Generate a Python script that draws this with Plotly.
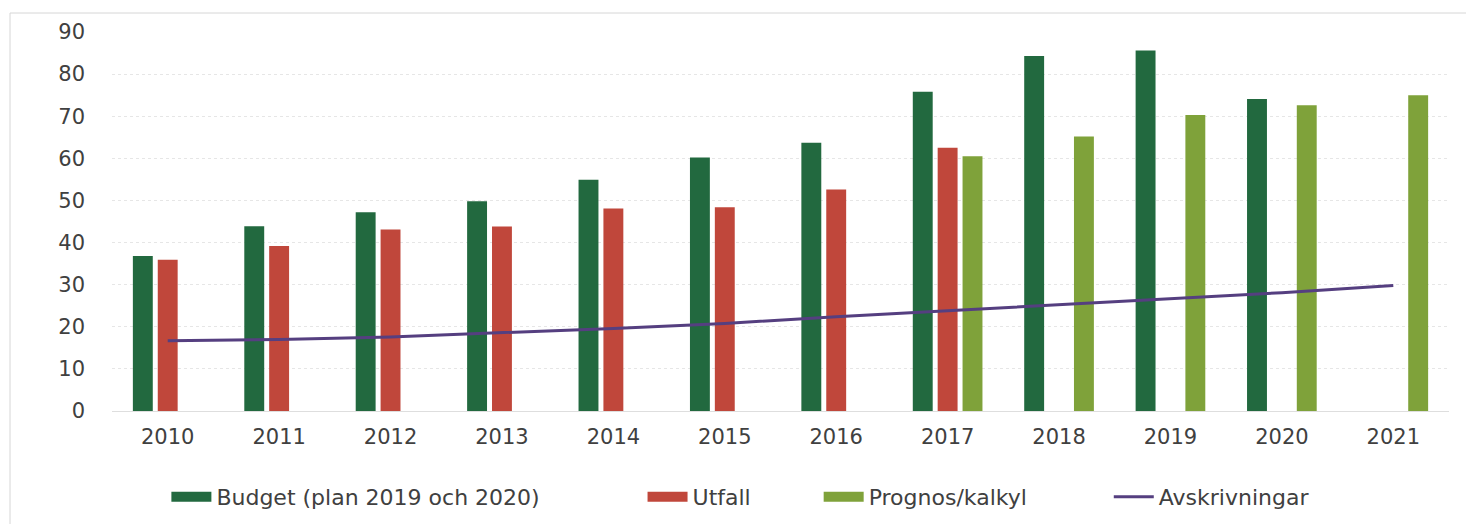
import plotly.graph_objects as go

years = ["2010", "2011", "2012", "2013", "2014", "2015", "2016", "2017", "2018", "2019", "2020", "2021"]
budget = [36.8, 43.9, 47.2, 49.8, 54.9, 60.2, 63.7, 75.8, 84.3, 85.6, 74.1, None]
utfall = [35.9, 39.2, 43.1, 43.8, 48.1, 48.4, 52.6, 62.5, None, None, None, None]
prognos = [None, None, None, None, None, None, None, 60.5, 65.2, 70.3, 72.6, 75.0]
avskrivningar = [16.7, 17.0, 17.6, 18.6, 19.6, 20.8, 22.4, 23.8, 25.2, 26.6, 28.1, 29.8]

names = ["Budget (plan 2019 och 2020)", "Utfall", "Prognos/kalkyl", "Avskrivningar"]
colors = ["#22693f", "#c0473b", "#7fa23a", "#553f80"]
legend_pad = [14, 9, 11, 0]

font_family = "DejaVu Sans"
text_color = "#404040"

fig = go.Figure()
for name, vals, col in zip(names[:3], [budget, utfall, prognos], colors[:3]):
    fig.add_trace(go.Bar(name=name, x=years, y=vals, legendgroup=name, showlegend=False,
                         marker=dict(color=col, line=dict(width=0))))
fig.add_trace(go.Scatter(name=names[3], x=years, y=avskrivningar, mode="lines",
                         legendgroup=names[3], showlegend=False,
                         line=dict(color=colors[3], width=3)))

# legend entries (wide rectangular swatches like the original)
for i, (name, col, pad) in enumerate(zip(names, colors, legend_pad)):
    fig.add_trace(go.Scatter(name=name + "\u00a0" * pad, x=[None], y=[None], mode="lines",
                             legendgroup=name, showlegend=True,
                             line=dict(color=col, width=14 if i < 3 else 3)))

W, H = 1474, 524
ml, mt = 104, 24
pw, ph = 1337, 379
mr = W - ml - pw
mb = H - mt - ph

fig.update_layout(
    width=W, height=H,
    margin=dict(l=ml, r=mr, t=mt, b=mb),
    paper_bgcolor="white", plot_bgcolor="white",
    barmode="group", bargap=0.33, bargroupgap=0.2,
    font=dict(family=font_family, color=text_color, size=20),
    showlegend=True,
    legend=dict(orientation="h", x=0.47, xanchor="center",
                y=-0.227, yanchor="middle",
                font=dict(size=22, color=text_color), itemwidth=40,
                traceorder="normal"),
    xaxis=dict(showgrid=False, showline=False, zeroline=False, ticks="",
               ticklabelstandoff=11,
               tickfont=dict(size=21, color=text_color)),
    yaxis=dict(range=[0, 90], dtick=10, showgrid=True, gridcolor="#e6e6e6",
               griddash="dot", gridwidth=1,
               zeroline=True, zerolinecolor="#dedede", zerolinewidth=1,
               showline=False, ticks="", ticklabelstandoff=26,
               tickfont=dict(size=21, color=text_color)),
    shapes=[dict(type="rect", xref="paper", yref="paper",
                 x0=(2 - ml) / pw, x1=(1480 - ml) / pw,
                 y0=(ph - 540) / ph, y1=1 + (mt - 5) / ph,
                 line=dict(color="#d6d6d6", width=1), fillcolor="rgba(0,0,0,0)",
                 layer="below")],
)

fig.write_html("out.html")
